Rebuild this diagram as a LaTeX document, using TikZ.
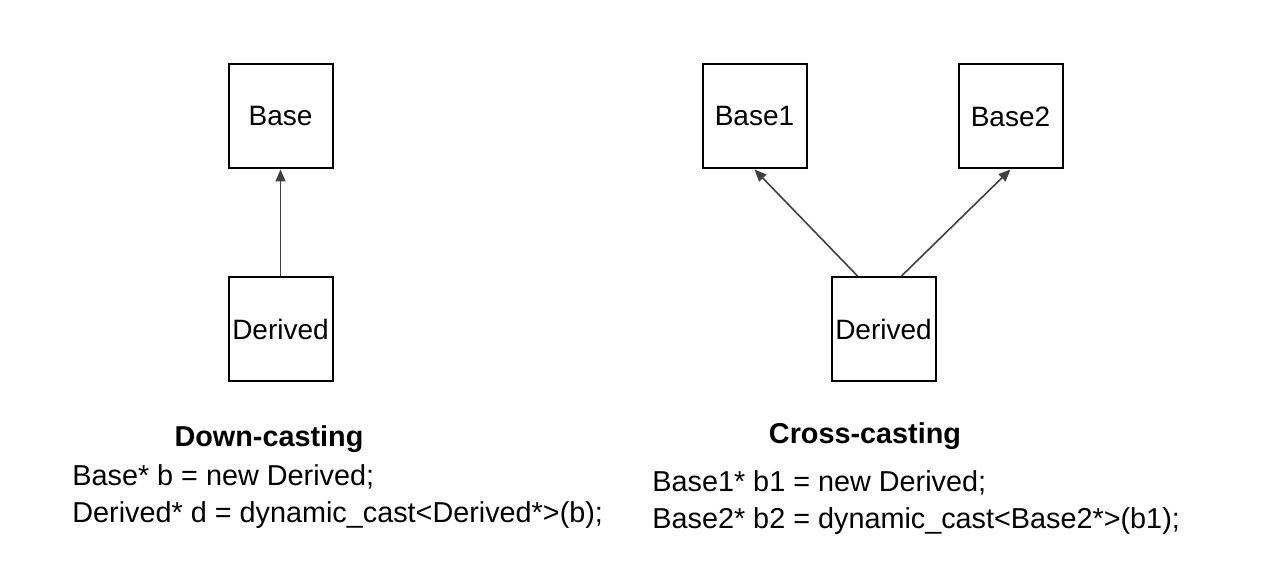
\documentclass[tikz,border=0pt]{standalone}
\usepackage{fontspec}
\setmainfont{Liberation Sans}
\usetikzlibrary{arrows.meta}
\tikzset{
  classbox/.style={draw,line width=1pt,minimum width=52pt,minimum height=52pt,inner sep=0pt,font=\fontsize{14}{16}\selectfont},
  inherit/.style={draw=black!75,line width=0.8pt,-{Triangle[length=6pt,width=5pt]}},
  caption/.style={font=\fontsize{14.4}{16}\selectfont\bfseries,anchor=base},
  codeline/.style={font=\fontsize{14.4}{16}\selectfont,anchor=base west,inner sep=0pt}
}
\begin{document}
\begin{tikzpicture}[x=0.5pt,y=-0.5pt]
                \useasboundingbox (0,0) rectangle (1284,572);
                %% down-casting
                \node[classbox] (base) at (280.5,116.5) {Base};
                \node[classbox] (derivedA) at (280.5,329) {Derived};
                \draw[inherit] (derivedA.north) -- (base.south);
                \node[caption] (downcap) at (269,446) {Down-casting};
                \node[codeline] (downA) at (72,485) {Base* b = new Derived;};
                \node[codeline] (downB) at (72,522) {Derived* d = dynamic\_cast<Derived*>(b);};
                %% cross-casting
                \node[classbox] (baseA) at (754.5,116.5) {Base1};
                \node[classbox] (baseB) at (1010.5,116.5) {Base2};
                \node[classbox] (derivedB) at (883.5,329) {Derived};
                \draw[inherit] ([xshift=-13pt]derivedB.north) -- (baseA.south);
                \draw[inherit] ([xshift=9pt]derivedB.north) -- (baseB.south);
                \node[caption] (crosscap) at (865,443) {Cross-casting};
                \node[codeline] (crossA) at (652,491) {Base1* b1 = new Derived;};
                \node[codeline] (crossB) at (652,528) {Base2* b2 = dynamic\_cast<Base2*>(b1);};
            \end{tikzpicture}
\end{document}
